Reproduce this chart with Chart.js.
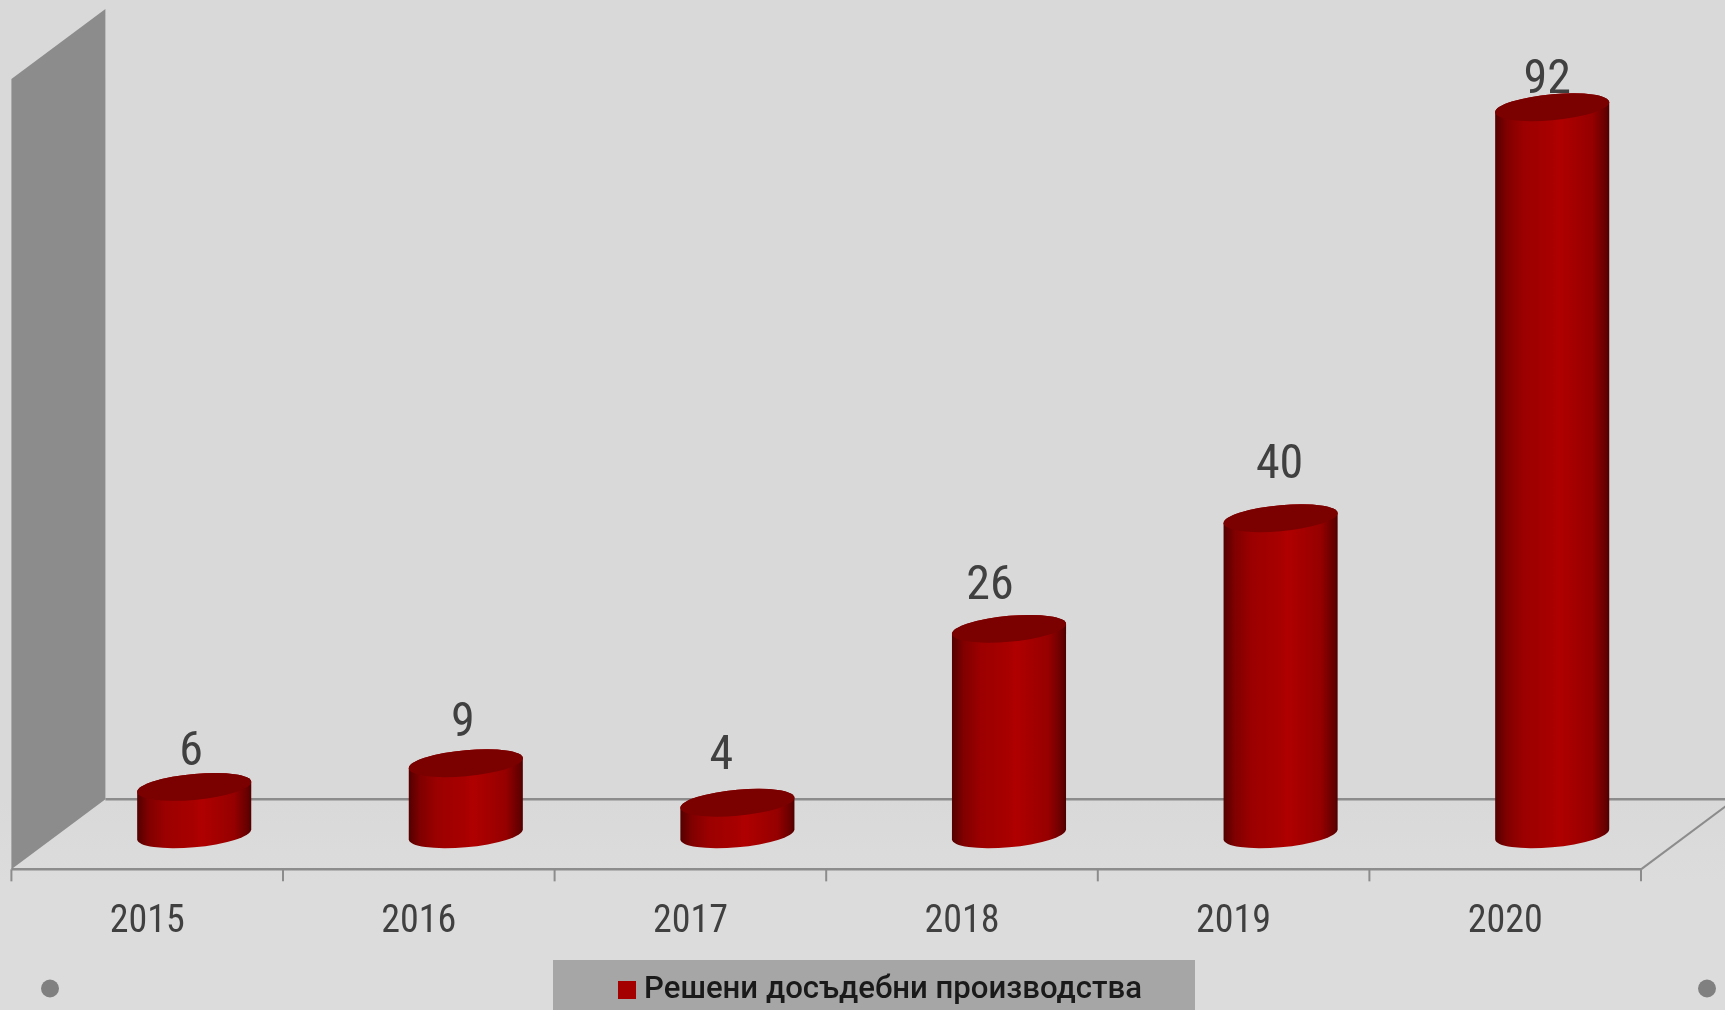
<!DOCTYPE html>
<html lang="bg">

<head>
    <meta charset="UTF-8">
    <title>Решени досъдебни производства</title>
    <script src="https://cdn.jsdelivr.net/npm/chart.js"></script>
    <style>
        html, body { margin: 0; padding: 0; overflow: hidden; }
        #wrap {
            width: 1725px;
            height: 1010px;
            background: linear-gradient(#d9d9d9 800px, #dcdcdc 880px);
        }
    </style>
</head>

<body>
    <div id="wrap"><canvas id="myChart"></canvas></div>

    <script>
        // data
        const years = ['2015', '2016', '2017', '2018', '2019', '2020'];
        const cases = [6, 9, 4, 26, 40, 92];
        const seriesName = 'Решени досъдебни производства';
        // the value labels sit by hand in the original: shift from the bar top
        const labelShiftX = [-3, -3, -16, -19, -1, -5];
        const labelShiftY = [-22, -27, -34, -30, -40, -14];

        const condensed = '"Roboto Condensed", Roboto, sans-serif';
        const depthX = 47, depthY = 35; // half depth of the fake 3d floor
        const lineColor = '#8c8c8c';
        const legendShiftX = 11, legendShiftY = 5.5;

        // legend swatch, as a small canvas so the gap to the text stays tight
        const swatch = document.createElement('canvas');
        swatch.width = 18; swatch.height = 18;
        const sw = swatch.getContext('2d');
        sw.fillStyle = '#a50000';
        sw.fillRect(0, 0, 18, 18);

        function line(ctx, x1, y1, x2, y2) {
            ctx.beginPath();
            ctx.moveTo(x1, y1);
            ctx.lineTo(x2, y2);
            ctx.stroke();
        }

        const sceneBack = {
            id: 'sceneBack',
            afterLayout(chart) {
                chart.legend.left += legendShiftX;
                chart.legend.right += legendShiftX;
                chart.legend.top += legendShiftY;
                chart.legend.bottom += legendShiftY;
            },
            beforeDraw(chart) {
                const { ctx, chartArea: a, scales: { x } } = chart;
                const step = x.getPixelForValue(1) - x.getPixelForValue(0);
                const left = a.left - depthX, right = a.right - depthX;
                const backX = a.left + depthX;
                const frontY = a.bottom + depthY, backY = a.bottom - depthY;
                ctx.save();

                // side wall
                ctx.fillStyle = lineColor;
                ctx.beginPath();
                ctx.moveTo(left, a.top + depthY);
                ctx.lineTo(backX, a.top - depthY);
                ctx.lineTo(backX, backY);
                ctx.lineTo(left, frontY);
                ctx.closePath();
                ctx.fill();

                // floor
                ctx.strokeStyle = lineColor;
                ctx.lineWidth = 2.5;
                line(ctx, backX, backY, a.right + depthX, backY);
                line(ctx, left, frontY, right, frontY);
                ctx.lineWidth = 2;
                line(ctx, right, frontY, a.right + depthX, backY);
                years.forEach((y, i) => {
                    const tx = x.getPixelForValue(i) - step / 2 - depthX;
                    line(ctx, tx, frontY, tx, frontY + 12);
                });
                line(ctx, right, frontY, right, frontY + 12);

                // legend plate and the two corner dots
                ctx.fillStyle = '#a6a6a6';
                ctx.fillRect(553, 960, 642, 50);
                ctx.fillStyle = '#808080';
                [50, 1707].forEach((dx) => {
                    ctx.beginPath();
                    ctx.arc(dx, 988.5, 9, 0, Math.PI * 2);
                    ctx.fill();
                });
                ctx.restore();
            }
        };

        const cylinders = {
            id: 'cylinders',
            // paint the bars as cylinders, geometry comes from the bar elements
            beforeDatasetDraw(chart, args) {
                const { ctx } = chart;
                args.meta.data.forEach((bar) => {
                    const { x, y, base, width } = bar.getProps(['x', 'y', 'base', 'width'], true);
                    const a = width / 2, b = 13, shear = 5 / a;
                    const ring = (cy, from, to) => {
                        ctx.save();
                        ctx.transform(1, -shear, 0, 1, x, cy);
                        ctx.ellipse(0, 0, a, b, 0, from, to, false);
                        ctx.restore();
                    };
                    const g = ctx.createLinearGradient(x - a, 0, x + a, 0);
                    g.addColorStop(0, '#540000');
                    g.addColorStop(0.1, '#800000');
                    g.addColorStop(0.25, '#9c0000');
                    g.addColorStop(0.5, '#a80000');
                    g.addColorStop(0.56, '#b00000');
                    g.addColorStop(0.85, '#960000');
                    g.addColorStop(0.97, '#650000');
                    g.addColorStop(1, '#4d0000');

                    ctx.save();
                    ctx.fillStyle = g;
                    ctx.beginPath();
                    ring(y, Math.PI, 0);
                    ring(base, 0, Math.PI);
                    ctx.closePath();
                    ctx.fill();

                    ctx.fillStyle = '#7b0000';
                    ctx.beginPath();
                    ring(y, 0, Math.PI * 2);
                    ctx.fill();
                    ctx.restore();
                });
                return false;
            },
            afterDatasetsDraw(chart) {
                const { ctx } = chart;
                const meta = chart.getDatasetMeta(0);
                ctx.save();
                ctx.font = '48px ' + condensed;
                ctx.fillStyle = '#404040';
                ctx.textAlign = 'center';
                ctx.textBaseline = 'alphabetic';
                meta.data.forEach((bar, i) => {
                    ctx.fillText(cases[i], bar.x + labelShiftX[i], bar.y + labelShiftY[i]);
                });
                ctx.restore();
            }
        };

        const ctx = document.getElementById('myChart');

        new Chart(ctx, {
            type: 'bar',
            data: {
                labels: years,
                datasets: [{
                    label: seriesName,
                    data: cases,
                    backgroundColor: '#a50000',
                    barPercentage: 1,
                    categoryPercentage: 0.42
                }]
            },
            options: {
                responsive: true,
                maintainAspectRatio: false,
                animation: false,
                layout: { padding: { left: 58.4, right: 37, top: 44, bottom: 0 } },
                scales: {
                    x: {
                        grid: { display: false, drawTicks: false },
                        border: { display: false },
                        ticks: {
                            color: '#404040',
                            font: { family: condensed, size: 38 },
                            labelOffset: -depthX,
                            padding: 65,
                            maxRotation: 0
                        },
                        afterFit(scale) {
                            scale.height = 132.5;
                        }
                    },
                    y: {
                        display: false,
                        min: 0,
                        max: 100
                    }
                },
                plugins: {
                    tooltip: { enabled: false },
                    legend: {
                        position: 'bottom',
                        labels: {
                            color: '#1a1a1a',
                            font: { family: 'Roboto, sans-serif', size: 31.15, weight: '500' },
                            usePointStyle: true,
                            pointStyle: swatch,
                            pointStyleWidth: 2,
                            boxHeight: 18,
                            padding: 2
                        }
                    }
                }
            },
            plugins: [sceneBack, cylinders]
        });
    </script>
</body>

</html>
